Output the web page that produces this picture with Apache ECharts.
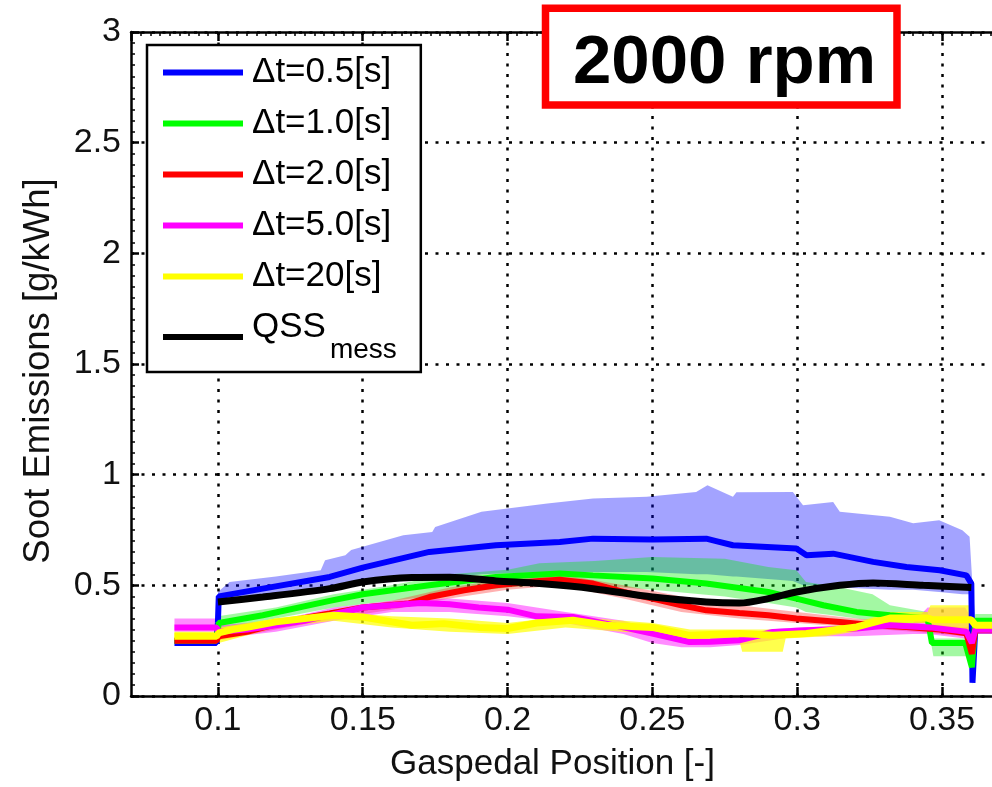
<!DOCTYPE html>
<html>
<head>
<meta charset="utf-8">
<title>Soot Emissions vs Gaspedal Position</title>
<script src="https://cdn.jsdelivr.net/npm/echarts@6/dist/echarts.min.js"></script>
<style>
  html, body { margin: 0; padding: 0; background: #fff; overflow: hidden; }
  #chart { width: 1010px; height: 787px; }
</style>
</head>
<body>
<div id="chart"></div>
<script>
// Axis ticks
const xTicks = [0.1, 0.15, 0.2, 0.25, 0.3, 0.35];
const yTicks = [0, 0.5, 1, 1.5, 2, 2.5, 3];

// Legend names
const seriesNames = ['Δt=0.5[s]', 'Δt=1.0[s]', 'Δt=2.0[s]', 'Δt=5.0[s]', 'Δt=20[s]', 'QSS_mess'];

// Mean soot emission curves, [gaspedal position, g/kWh]
const dt05 = [[0.085,0.24],[0.0995,0.24],[0.1,0.33],[0.1003,0.45],[0.1155,0.485],[0.1386,0.538],[0.15,0.58],[0.173,0.651],[0.196,0.681],[0.218,0.696],[0.2295,0.711],[0.25,0.707],[0.2686,0.711],[0.272,0.70],[0.2778,0.681],[0.2997,0.666],[0.3032,0.636],[0.3124,0.643],[0.3262,0.606],[0.3377,0.583],[0.3492,0.568],[0.3584,0.545],[0.3601,0.508],[0.3605,0.06],[0.3615,0.31],[0.37,0.31]];
const dt10 = [[0.085,0.25],[0.0995,0.25],[0.1003,0.33],[0.1155,0.365],[0.1386,0.43],[0.15,0.46],[0.173,0.50],[0.196,0.538],[0.218,0.554],[0.2295,0.545],[0.25,0.531],[0.2686,0.508],[0.29,0.47],[0.2997,0.44],[0.309,0.41],[0.3205,0.38],[0.332,0.365],[0.345,0.35],[0.3465,0.24],[0.358,0.24],[0.3603,0.13],[0.3615,0.34],[0.37,0.34]];
const dt20 = [[0.085,0.25],[0.0995,0.25],[0.1003,0.27],[0.11,0.29],[0.119,0.32],[0.1317,0.357],[0.1386,0.373],[0.15,0.40],[0.166,0.418],[0.173,0.447],[0.185,0.478],[0.196,0.50],[0.211,0.52],[0.218,0.525],[0.2295,0.508],[0.24,0.47],[0.25,0.44],[0.26,0.41],[0.2686,0.387],[0.28,0.375],[0.29,0.365],[0.2997,0.35],[0.3147,0.334],[0.3262,0.32],[0.3377,0.312],[0.349,0.30],[0.3584,0.283],[0.3603,0.19],[0.3615,0.30],[0.37,0.30]];
const dt50 = [[0.085,0.31],[0.0995,0.31],[0.1003,0.29],[0.11,0.30],[0.12,0.32],[0.13,0.34],[0.14,0.37],[0.15,0.40],[0.16,0.41],[0.17,0.42],[0.18,0.415],[0.19,0.40],[0.2,0.39],[0.21,0.36],[0.2226,0.357],[0.234,0.327],[0.25,0.282],[0.2628,0.244],[0.27,0.245],[0.28,0.252],[0.2916,0.289],[0.3032,0.297],[0.3205,0.305],[0.332,0.32],[0.3458,0.31],[0.3584,0.29],[0.3603,0.24],[0.3615,0.30],[0.37,0.30]];
const dt200 = [[0.085,0.27],[0.0995,0.27],[0.1003,0.285],[0.105,0.30],[0.11,0.31],[0.12,0.335],[0.13,0.35],[0.14,0.365],[0.15,0.357],[0.16,0.335],[0.167,0.32],[0.178,0.327],[0.19,0.31],[0.2,0.305],[0.21,0.33],[0.2226,0.342],[0.234,0.32],[0.25,0.31],[0.2628,0.274],[0.28,0.282],[0.2916,0.274],[0.3032,0.282],[0.3205,0.312],[0.332,0.352],[0.345,0.352],[0.3465,0.345],[0.36,0.345],[0.3615,0.32],[0.37,0.32]];
const qssMess = [[0.1,0.425],[0.1155,0.447],[0.1386,0.485],[0.15,0.515],[0.167,0.535],[0.18,0.537],[0.196,0.52],[0.211,0.508],[0.2295,0.485],[0.25,0.447],[0.2686,0.425],[0.28,0.42],[0.29,0.44],[0.2997,0.47],[0.3147,0.50],[0.3262,0.511],[0.3435,0.50],[0.3601,0.49]];

// Scatter envelopes, [gaspedal position, lower, upper]
const dt05Band = [[0.1,0.41,0.47],[0.104,0.42,0.515],[0.12,0.45,0.54],[0.1355,0.48,0.568],[0.137,0.49,0.613],[0.144,0.50,0.636],[0.146,0.50,0.66],[0.164,0.52,0.726],[0.174,0.53,0.741],[0.175,0.53,0.764],[0.191,0.55,0.832],[0.2137,0.56,0.87],[0.2295,0.56,0.892],[0.248,0.56,0.90],[0.2651,0.55,0.922],[0.269,0.55,0.952],[0.2778,0.54,0.90],[0.279,0.54,0.92],[0.2985,0.52,0.922],[0.302,0.50,0.862],[0.3124,0.50,0.877],[0.3147,0.49,0.832],[0.332,0.48,0.81],[0.34,0.48,0.78],[0.349,0.47,0.794],[0.357,0.46,0.749],[0.3595,0.46,0.72],[0.3605,0.05,0.50],[0.3615,0.28,0.34],[0.37,0.28,0.34]];
const dt10Band = [[0.1,0.30,0.36],[0.12,0.35,0.40],[0.14,0.40,0.46],[0.16,0.43,0.50],[0.18,0.46,0.55],[0.2,0.49,0.57],[0.211,0.50,0.60],[0.23,0.50,0.61],[0.25,0.48,0.628],[0.275,0.45,0.62],[0.29,0.42,0.583],[0.2997,0.40,0.568],[0.303,0.38,0.515],[0.315,0.36,0.49],[0.326,0.34,0.46],[0.332,0.33,0.41],[0.345,0.33,0.38],[0.347,0.18,0.26],[0.359,0.18,0.26],[0.3605,0.10,0.30],[0.3615,0.31,0.37],[0.37,0.31,0.37]];
const dt20Band = [[0.1,0.25,0.29],[0.12,0.30,0.34],[0.14,0.35,0.39],[0.16,0.39,0.43],[0.18,0.44,0.49],[0.2,0.48,0.53],[0.218,0.50,0.55],[0.24,0.44,0.50],[0.26,0.38,0.45],[0.28,0.35,0.41],[0.3,0.33,0.38],[0.32,0.31,0.35],[0.34,0.29,0.33],[0.358,0.27,0.31],[0.3605,0.16,0.32],[0.3615,0.28,0.32],[0.37,0.28,0.32]];
const dt50Band = [[0.085,0.29,0.35],[0.0998,0.29,0.35],[0.1003,0.26,0.32],[0.12,0.29,0.34],[0.14,0.34,0.40],[0.16,0.38,0.43],[0.18,0.38,0.44],[0.2,0.36,0.42],[0.22,0.33,0.38],[0.24,0.28,0.34],[0.25,0.24,0.30],[0.26,0.22,0.27],[0.27,0.22,0.27],[0.28,0.23,0.27],[0.29,0.25,0.30],[0.3,0.27,0.31],[0.32,0.27,0.32],[0.34,0.28,0.33],[0.345,0.28,0.40],[0.358,0.26,0.40],[0.3605,0.22,0.34],[0.3615,0.28,0.32],[0.37,0.28,0.32]];
const dt200Band = [[0.085,0.25,0.29],[0.0998,0.25,0.29],[0.1003,0.24,0.31],[0.12,0.31,0.35],[0.14,0.34,0.38],[0.16,0.31,0.36],[0.18,0.29,0.35],[0.2,0.28,0.33],[0.22,0.31,0.36],[0.25,0.28,0.33],[0.263,0.25,0.30],[0.28,0.25,0.30],[0.281,0.20,0.30],[0.295,0.20,0.30],[0.296,0.26,0.30],[0.31,0.27,0.31],[0.32,0.29,0.33],[0.332,0.33,0.38],[0.345,0.33,0.38],[0.346,0.30,0.41],[0.36,0.30,0.41],[0.3615,0.30,0.34],[0.37,0.30,0.34]];

const FONT = "'Liberation Sans', Arial, Helvetica, sans-serif";

const lineColors = ['#0000ff', '#00ff00', '#ff0000', '#ff00ff', '#ffff00', '#000000'];
const lineWidths = [6, 6, 6, 6, 7, 7];
const bandColors = ['rgba(0,0,255,0.36)', 'rgba(0,235,0,0.36)', 'rgba(255,40,40,0.36)', 'rgba(255,0,255,0.45)', 'rgba(255,255,0,0.7)'];
const lineData = [dt05, dt10, dt20, dt50, dt200, qssMess];
const bandData = [dt05Band, dt10Band, dt20Band, dt50Band, dt200Band];

// Each envelope is one filled polygon: upper edge left-to-right, lower edge back.
function envelopeRenderer(band, color) {
  return function (params, api) {
    if (params.dataIndex !== 0) return null;
    const upper = [];
    const lower = [];
    for (let k = 0; k < band.length; k++) {
      upper.push(api.coord([band[k][0], band[k][2]]));
      lower.push(api.coord([band[k][0], band[k][1]]));
    }
    return {
      type: 'polygon',
      shape: { points: upper.concat(lower.reverse()) },
      style: { fill: color, stroke: null }
    };
  };
}

const bandSeries = bandData.map(function (band, i) {
  return {
    name: 'envelope-' + i, type: 'custom', silent: true, z: 1,
    encode: { x: 0, y: [1, 2] },
    data: band,
    renderItem: envelopeRenderer(band, bandColors[i])
  };
});

const meanSeries = lineData.map(function (d, i) {
  return {
    name: seriesNames[i], type: 'line', data: d,
    showSymbol: false, symbol: 'none',
    smooth: i === 5 ? 0.3 : false,
    color: lineColors[i],
    lineStyle: { color: lineColors[i], width: lineWidths[i] },
    z: 3 + (i === 5 ? 1 : 0)
  };
});

const dotted = { color: '#000', width: 2.5, type: [3, 7.5] };

const chart = echarts.init(document.getElementById('chart'), null, { renderer: 'canvas' });
chart.setOption({
  animation: false,
  backgroundColor: '#fff',
  textStyle: { fontFamily: FONT },
  grid: { left: 131, right: 10, top: 32, bottom: 91 },
  xAxis: [{
    type: 'value', min: 0.07, max: 0.37, position: 'bottom',
    name: 'Gaspedal Position [-]', nameLocation: 'middle', nameGap: 51,
    nameTextStyle: { fontSize: 35, color: '#111', fontFamily: FONT, padding: [0, 26, 0, 0] },
    axisLine: { show: true, lineStyle: { color: '#000', width: 2.5 } },
    axisTick: { show: true, inside: true, length: 9, customValues: xTicks, lineStyle: { color: '#000', width: 2.5 } },
    axisLabel: { show: true, customValues: xTicks, margin: 8, fontSize: 34, color: '#111', fontFamily: FONT,
      formatter: function (v) { return String(+v.toFixed(2)); } },
    splitLine: { show: true, lineStyle: dotted }
  }, {
    type: 'value', min: 0.07, max: 0.37, position: 'top',
    axisLine: { show: true, lineStyle: { color: '#000', width: 2.5 } },
    axisTick: { show: true, inside: true, length: 9, lineStyle: { color: '#000', width: 2.5 } },
    minorTick: { show: true, splitNumber: 15, length: 4, lineStyle: { color: '#000', width: 1.5 } },
    axisLabel: { show: false },
    splitLine: { show: false }
  }],
  yAxis: {
    type: 'value', min: 0, max: 3, interval: 0.5,
    name: 'Soot Emissions [g/kWh]', nameLocation: 'middle', nameGap: 74, nameRotate: 90,
    nameTextStyle: { fontSize: 36.5, color: '#111', fontFamily: FONT, padding: [0, 14, 0, 0] },
    axisLine: { show: true, lineStyle: { color: '#000', width: 2.5 } },
    axisTick: { show: true, inside: true, length: 8, lineStyle: { color: '#000', width: 2.5 } },
    minorTick: { show: true, splitNumber: 10, length: 4, lineStyle: { color: '#000', width: 1.5 } },
    axisLabel: { margin: 10, fontSize: 34, color: '#111', fontFamily: FONT,
      formatter: function (v) { return String(v); } },
    splitLine: { show: true, lineStyle: dotted }
  },
  legend: {
    data: seriesNames,
    orient: 'vertical', left: 147, top: 45,
    padding: [10, 24, 8, 16],
    itemWidth: 80, itemHeight: 6, itemGap: 16,
    icon: 'rect',
    backgroundColor: '#fff', borderColor: '#000', borderWidth: 2.5, borderRadius: 0,
    selectedMode: false, z: 10,
    formatter: function (name) {
      if (name === 'QSS_mess') return '{q|QSS}{s|mess}';
      if (name === 'Δt=20[s]') return '{p|' + name + '}';
      return name;
    },
    textStyle: {
      fontSize: 35, color: '#000', fontFamily: FONT, padding: [0, 0, 0, 4],
      rich: {
        p: { fontSize: 35, color: '#000', fontFamily: FONT, padding: [4, 0, 4, 0] },
        q: { fontSize: 35, color: '#000', fontFamily: FONT, verticalAlign: 'top' },
        s: { fontSize: 28, color: '#000', fontFamily: FONT, padding: [26, 0, 0, 4], verticalAlign: 'top' }
      }
    }
  },
  graphic: [{
    type: 'group', z: 100,
    children: [{
      type: 'rect', z: 100,
      shape: { x: 545.5, y: 8.3, width: 351.5, height: 96.7 },
      style: { fill: '#fff', stroke: '#ff0000', lineWidth: 7.5 }
    }, {
      type: 'text', z: 101,
      style: { text: '2000 rpm', x: 724.5, y: 64, align: 'center', verticalAlign: 'middle',
        font: 'bold 69px ' + FONT, fill: '#000' }
    }]
  }],
  series: bandSeries.concat(meanSeries)
});
</script>
</body>
</html>
